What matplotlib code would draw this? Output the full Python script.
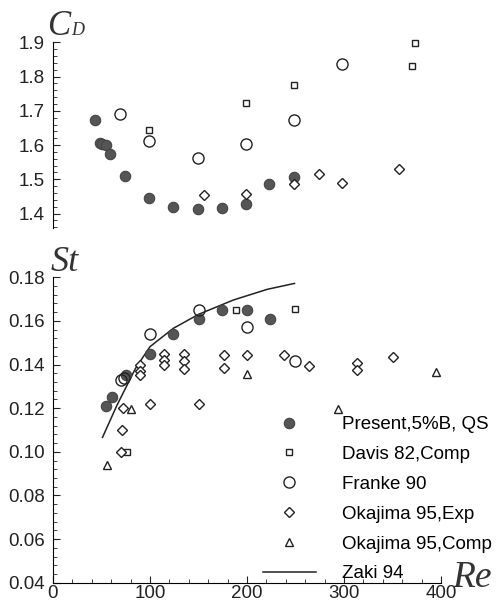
import matplotlib
matplotlib.use("Agg")
import matplotlib.pyplot as plt
from matplotlib.ticker import MultipleLocator

plt.rcParams['font.family'] = ['Liberation Sans', 'DejaVu Sans']

# ---- drag coefficient (top) ----
cd_present_re = [43, 48, 51, 55, 59, 74, 99, 124, 149, 174, 199, 223, 248]
cd_present = [1.673, 1.605, 1.603, 1.600, 1.574, 1.511, 1.447, 1.419, 1.412, 1.416, 1.429, 1.487, 1.506]
cd_davis_re = [99, 199, 248, 370, 373]
cd_davis = [1.645, 1.724, 1.774, 1.831, 1.897]
cd_franke_re = [69, 99, 149, 199, 248, 298]
cd_franke = [1.692, 1.612, 1.563, 1.603, 1.673, 1.836]
cd_oka_re = [156, 199, 248, 274, 298, 357]
cd_oka = [1.454, 1.458, 1.485, 1.515, 1.488, 1.531]

# ---- Strouhal number (bottom) ----
st_present_re = [55, 61, 75, 100, 124, 150, 174, 200, 224]
st_present = [0.121, 0.125, 0.135, 0.145, 0.154, 0.161, 0.165, 0.165, 0.161]
st_davis_re = [76, 189, 249]
st_davis = [0.100, 0.165, 0.1656]
st_franke_re = [70, 73, 100, 150, 200, 249]
st_franke = [0.133, 0.134, 0.154, 0.165, 0.157, 0.1415]
st_oka_exp_re = [70, 71, 72, 90, 90, 90, 100, 114, 114, 114, 135, 135, 135, 150,
                 176, 176, 200, 238, 264, 313, 313, 350]
st_oka_exp = [0.100, 0.110, 0.120, 0.140, 0.137, 0.135, 0.122, 0.145, 0.142, 0.140,
              0.145, 0.1415, 0.138, 0.122, 0.1444, 0.1383, 0.1444, 0.1444, 0.1395,
              0.1406, 0.1375, 0.1436]
st_oka_comp_re = [56, 80, 200, 294, 395]
st_oka_comp = [0.094, 0.1195, 0.1357, 0.1195, 0.1368]
zaki_re = [51, 66, 85, 100, 124, 150, 186, 221, 249]
zaki_st = [0.1066, 0.1214, 0.1382, 0.1482, 0.1566, 0.163, 0.1696, 0.1745, 0.1772]

fig = plt.figure(figsize=(5.03, 6.05), dpi=100)
W, H = 503.0, 605.0
x0, x1 = 53 / W, 441 / W
ax1 = fig.add_axes([x0, 1 - 228 / H, x1 - x0, (228 - 42.3) / H])
ax2 = fig.add_axes([x0, 1 - 582.7 / H, x1 - x0, (582.7 - 277.3) / H])

fill_kw = dict(ls='none', marker='o', ms=7.5, mfc='#555555', mec='#444444', mew=0.8, clip_on=False)
sq_kw = dict(ls='none', marker='s', ms=5, mfc='white', mec='#222222', mew=1.0, clip_on=False)
ci_kw = dict(ls='none', marker='o', ms=8, mfc='none', mec='#222222', mew=1.0, clip_on=False)
di_kw = dict(ls='none', marker='D', ms=5.5, mfc='white', mec='#222222', mew=1.0, clip_on=False)
tr_kw = dict(ls='none', marker='^', ms=5.5, mfc='white', mec='#222222', mew=1.0, clip_on=False)

ax1.plot(cd_present_re, cd_present, **fill_kw)
ax1.plot(cd_davis_re, cd_davis, **sq_kw)
ax1.plot(cd_franke_re, cd_franke, **ci_kw)
ax1.plot(cd_oka_re, cd_oka, **di_kw)

ax2.plot(zaki_re, zaki_st, '-', color='#222222', lw=1.1)
h1, = ax2.plot(st_present_re, st_present, **fill_kw)
h2, = ax2.plot(st_davis_re, st_davis, **sq_kw)
h3, = ax2.plot(st_franke_re, st_franke, **ci_kw)
h4, = ax2.plot(st_oka_exp_re, st_oka_exp, **di_kw)
h5, = ax2.plot(st_oka_comp_re, st_oka_comp, **tr_kw)
h6, = ax2.plot([], [], '-', color='#222222', lw=1.1)

for ax in (ax1, ax2):
    ax.set_xlim(0, 400)
    ax.spines['top'].set_visible(False)
    ax.spines['right'].set_visible(False)
    ax.set_facecolor('none')
    ax.tick_params(which='both', direction='in', labelsize=13.5, colors='#222222')
    ax.tick_params(which='major', length=5)
    ax.tick_params(which='minor', length=3)

ax1.set_ylim(1.358, 1.9)
ax1.spines['bottom'].set_visible(False)
ax1.set_xticks([])
ax1.xaxis.set_minor_locator(MultipleLocator(1000))
ax1.set_yticks([1.4, 1.5, 1.6, 1.7, 1.8, 1.9])
ax1.yaxis.set_minor_locator(MultipleLocator(0.02))
ax1.set_yticklabels(['1.4', '1.5', '1.6', '1.7', '1.8', '1.9'])
ax1.tick_params(axis='y', pad=6)

ax2.set_ylim(0.04, 0.18)
ax2.set_yticks([0.04, 0.06, 0.08, 0.10, 0.12, 0.14, 0.16, 0.18])
ax2.set_yticklabels(['0.04', '0.06', '0.08', '0.10', '0.12', '0.14', '0.16', '0.18'])
ax2.yaxis.set_minor_locator(MultipleLocator(0.004))
ax2.set_xticks([0, 100, 200, 300, 400])
ax2.xaxis.set_minor_locator(MultipleLocator(20))
ax2.tick_params(axis='y', pad=6)
ax2.tick_params(axis='x', pad=2)

labels = ['Present,5%B, QS', 'Davis 82,Comp', 'Franke 90', 'Okajima 95,Exp',
          'Okajima 95,Comp', 'Zaki 94']
fig.legend([h1, h2, h3, h4, h5, h6], labels, loc='upper left',
           bbox_to_anchor=(263 / W, 1 - 416 / H), frameon=False, fontsize=13.5,
           borderpad=0, borderaxespad=0, handlelength=2.8, handletextpad=1.4,
           labelspacing=0.68)

serif = dict(family=['Liberation Serif', 'DejaVu Serif'], style='italic', color='#333333')
fig.text(47 / W, 1 - 35 / H, 'C', fontsize=25, **serif)
fig.text(71 / W, 1 - 35 / H, 'D', fontsize=13, **serif)
fig.text(51 / W, 1 - 271 / H, 'St', fontsize=26, **serif)
fig.text(452 / W, 1 - 587 / H, 'Re', fontsize=27, **serif)

fig.savefig('out.png', dpi=100)
